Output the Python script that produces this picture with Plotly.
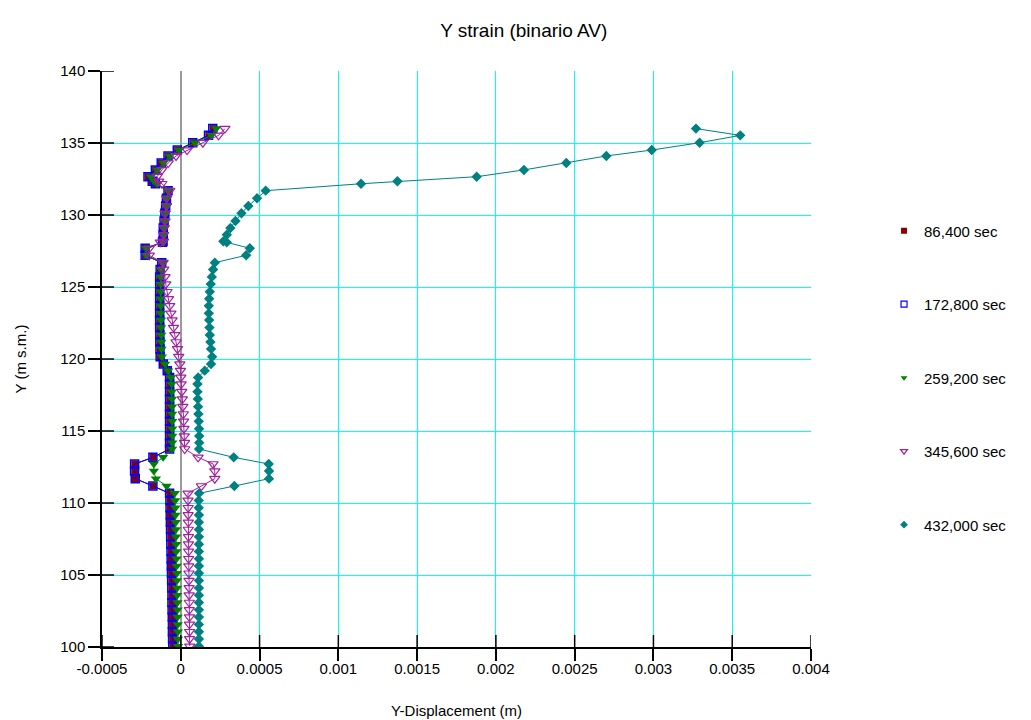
import plotly.graph_objects as go

# Node elevations along the section (m s.m.), top to bottom
elev = [136.0, 135.53, 135.02, 134.51, 134.1, 133.61, 133.13, 132.66, 132.34, 132.17,
        131.69, 131.16, 130.63, 130.12, 129.58, 129.1, 128.63, 128.17, 128.1, 127.69,
        127.2, 126.69, 126.22, 125.7, 125.2, 124.67, 124.18, 123.69, 123.17, 122.7,
        122.18, 121.67, 121.18, 120.7, 120.16, 119.65, 119.19, 118.72, 118.26, 117.73,
        117.22, 116.69, 116.18, 115.67, 115.16, 114.65, 114.19, 113.75, 113.17, 112.71,
        112.22, 111.69, 111.18, 110.67, 110.18, 109.67, 109.17, 108.66, 108.16, 107.65,
        107.14, 106.64, 106.13, 105.62, 105.12, 104.61, 104.1, 103.6, 103.09, 102.58,
        102.08, 101.57, 101.06, 100.56, 100.05]

# Y-displacement (m) at each node for every time step
disp_86400 = [0.000205, 0.000178, 0.000078, -0.00002, -0.00008, -0.000123, -0.00016, -0.000207, -0.00018, -0.00016,
              -0.00008, -0.00009, -0.000095, -0.0001, -0.000105, -0.00011, -0.00011, -0.000112, -0.000115, -0.000225,
              -0.000225, -0.00012, -0.00013, -0.000133, -0.000133, -0.000133, -0.000133, -0.000133, -0.000133, -0.000133,
              -0.000133, -0.000132, -0.000132, -0.000131, -0.00013, -0.00011, -0.000085, -0.00007, -0.00007, -0.00007,
              -0.00007, -0.00007, -0.00007, -0.00007, -0.00007, -0.00007, -0.00007, -0.00007, -0.000176, -0.000292,
              -0.000292, -0.000288, -0.000176, -0.00007, -0.000068, -0.000067, -0.000066, -0.000065, -0.000064, -0.000063,
              -0.000062, -0.000061, -0.00006, -0.000059, -0.000058, -0.000057, -0.000056, -0.000055, -0.000055, -0.000054,
              -0.000053, -0.000052, -0.000052, -0.000051, -0.00005]
disp_172800 = [0.000203, 0.000176, 0.000076, -0.000022, -0.000081, -0.000124, -0.000161, -0.000208, -0.000181, -0.000161,
               -0.000081, -0.000091, -0.000096, -0.000101, -0.000106, -0.000111, -0.000111, -0.000113, -0.000116, -0.000226,
               -0.000226, -0.000121, -0.000131, -0.000134, -0.000134, -0.000134, -0.000134, -0.000134, -0.000134, -0.000134,
               -0.000134, -0.000133, -0.000133, -0.000132, -0.000131, -0.000111, -0.000086, -0.000071, -0.000071, -0.000071,
               -0.000071, -0.000071, -0.000071, -0.000071, -0.000071, -0.000071, -0.000071, -0.000071, -0.000177, -0.000293,
               -0.000293, -0.000289, -0.000177, -0.000071, -0.000069, -0.000068, -0.000067, -0.000066, -0.000065, -0.000064,
               -0.000063, -0.000062, -0.000061, -0.00006, -0.000059, -0.000058, -0.000057, -0.000056, -0.000056, -0.000055,
               -0.000054, -0.000053, -0.000053, -0.000052, -0.000051]
disp_259200 = [0.000225, 0.000195, 0.00009, -0.00001, -0.00007, -0.00011, -0.00015, -0.00019, -0.00017, -0.00015,
               -0.00008, -0.00009, -0.00009, -0.000095, -0.0001, -0.000105, -0.000105, -0.00011, -0.00011, -0.00022,
               -0.00022, -0.000115, -0.000125, -0.000127, -0.000127, -0.000127, -0.000127, -0.000127, -0.000127, -0.000126,
               -0.000125, -0.000124, -0.000123, -0.000122, -0.00012, -0.0001, -0.00008, -0.000062, -0.000058, -0.000057,
               -0.000056, -0.000055, -0.000055, -0.000054, -0.000054, -0.000054, -0.000054, -0.000055, -0.000112, -0.000171,
               -0.000171, -0.000158, -0.00009, -0.000038, -0.000035, -0.000034, -0.000033, -0.000032, -0.000031, -0.00003,
               -0.000029, -0.000028, -0.000027, -0.000026, -0.000025, -0.000024, -0.000023, -0.000022, -0.000021, -0.00002,
               -0.00002, -0.000019, -0.000018, -0.000018, -0.000017]
disp_345600 = [0.00028, 0.00024, 0.00014, 0.00004, -0.00003, -0.00008, -0.00012, -0.00015, -0.00014, -0.00012,
               -0.00007, -0.00009, -0.00009, -0.0001, -0.0001, -0.000105, -0.00011, -0.00011, -0.00013, -0.0002,
               -0.0002, -0.000112, -0.000108, -0.0001, -0.000095, -0.000087, -0.000078, -0.00007, -0.000063, -0.000055,
               -0.000046, -0.000038, -0.00003, -0.000021, -0.000013, -0.000006, -0.000002, 0.0, 0.000002, 0.000006,
               0.00001, 0.000013, 0.000016, 0.000018, 0.00002, 0.000022, 0.000024, 0.000025, 0.00011, 0.000205,
               0.000216, 0.000216, 0.000131, 0.000046, 0.000046, 0.000047, 0.000047, 0.000048, 0.000048, 0.000049,
               0.000049, 0.00005, 0.00005, 0.000051, 0.000052, 0.000052, 0.000053, 0.000053, 0.000054, 0.000054,
               0.000055, 0.000055, 0.000056, 0.000056, 0.000057]
disp_432000 = [0.00327, 0.003551, 0.003293, 0.002989, 0.002701, 0.002447, 0.002178, 0.001878, 0.001375, 0.001144,
               0.000539, 0.000484, 0.000429, 0.000385, 0.000347, 0.000315, 0.000292, 0.00027, 0.000292, 0.000438,
               0.000415, 0.000216, 0.000205, 0.000197, 0.00019, 0.000184, 0.00018, 0.000178, 0.000178, 0.00018,
               0.000182, 0.000184, 0.000188, 0.000192, 0.000199, 0.000192, 0.000152, 0.00011, 0.000106, 0.000106,
               0.000108, 0.00011, 0.000112, 0.000114, 0.000116, 0.000117, 0.000117, 0.000116, 0.000336, 0.000558,
               0.00056, 0.00056, 0.00034, 0.000116, 0.000114, 0.000114, 0.000115, 0.000115, 0.000115, 0.000115,
               0.000115, 0.000115, 0.000115, 0.000115, 0.000115, 0.000115, 0.000115, 0.000115, 0.000115, 0.000115,
               0.000115, 0.000115, 0.000115, 0.000115, 0.000115]

series_names = ["86,400 sec", "172,800 sec", "259,200 sec", "345,600 sec", "432,000 sec"]
series_values = [disp_86400, disp_172800, disp_259200, disp_345600, disp_432000]

x_tickvals = [-0.0005, 0, 0.0005, 0.001, 0.0015, 0.002, 0.0025, 0.003, 0.0035, 0.004]
x_ticktext = ["-0.0005", "0", "0.0005", "0.001", "0.0015", "0.002", "0.0025", "0.003", "0.0035", "0.004"]
y_tickvals = [100, 105, 110, 115, 120, 125, 130, 135, 140]

# marker style per series: (symbol, size, fill colour, line colour, line width)
styles = [
    ("square", 7, "#8B0000", "#8B0000", 0),
    ("square-open", 8, "#0000FF", "#0000FF", 1.5),
    ("triangle-down", 9, "#008000", "#008000", 0),
    ("triangle-down-open", 9, "#A020A0", "#A020A0", 1.2),
    ("diamond", 8, "#008080", "#008080", 0),
]

FONT = "Liberation Sans, Arial, sans-serif"
fig = go.Figure()

for i, (name, vals) in enumerate(zip(series_names, series_values)):
    sym, size, col, lcol, lw = styles[i]
    fig.add_trace(go.Scatter(
        x=vals, y=elev, mode="lines+markers", name=name, showlegend=False,
        line=dict(color=lcol, width=1),
        marker=dict(symbol=sym, size=size, color=col, line=dict(color=lcol, width=lw)),
    ))

# legend entries show the marker only
for i, name in enumerate(series_names):
    sym, size, col, lcol, lw = styles[i]
    fig.add_trace(go.Scatter(
        x=[None], y=[None], mode="markers", name=name, legendgroup=name,
        marker=dict(symbol=sym, size=6, color=col, line=dict(color=lcol, width=min(lw, 1.2))),
    ))

# inner half of the tick marks (ticks cross the axis lines)
tick_shapes = []
for v in x_tickvals:
    tick_shapes.append(dict(type="line", xref="x", yref="paper", ysizemode="pixel", yanchor=0,
                            x0=v, x1=v, y0=0, y1=12, line=dict(color="black", width=1.5)))
for v in y_tickvals:
    tick_shapes.append(dict(type="line", xref="paper", yref="y", xsizemode="pixel", xanchor=0,
                            x0=0, x1=12, y0=v, y1=v, line=dict(color="black", width=1.5)))

axis_common = dict(showline=True, linecolor="black", linewidth=1.5, ticks="outside",
                   ticklen=12, tickwidth=1.5, tickcolor="black", automargin=False,
                   showgrid=True, gridcolor="#00FFFF", gridwidth=1, minor=dict(showgrid=False),
                   tickfont=dict(family=FONT, size=15, color="black"))

fig.update_layout(
    template="none",
    width=1031, height=720,
    paper_bgcolor="white", plot_bgcolor="white",
    margin=dict(l=102, r=220, t=71, b=73),
    title=dict(text="Y strain (binario AV)", x=0.508, xanchor="center", y=0.958, yanchor="middle",
               font=dict(family=FONT, size=19, color="black")),
    xaxis=dict(range=[-0.0005, 0.004], tickvals=x_tickvals, ticktext=x_ticktext,
               zeroline=True, zerolinecolor="#9a9a9a", zerolinewidth=1.5,
               ticklabelstandoff=-5,
               title=dict(text="Y-Displacement (m)", font=dict(family=FONT, size=15, color="black"),
                          standoff=30),
               **axis_common),
    yaxis=dict(range=[100, 140], tickvals=y_tickvals, zeroline=False,
               title=dict(text="Y (m s.m.)", font=dict(family=FONT, size=15, color="black"),
                          standoff=30),
               **axis_common),
    shapes=tick_shapes,
    legend=dict(x=1.103, xanchor="left", y=0.751, yanchor="top",
                font=dict(family=FONT, size=15, color="black"),
                tracegroupgap=51, bgcolor="rgba(0,0,0,0)", borderwidth=0, itemwidth=30),
    showlegend=True,
)

fig.write_html("out.html")
